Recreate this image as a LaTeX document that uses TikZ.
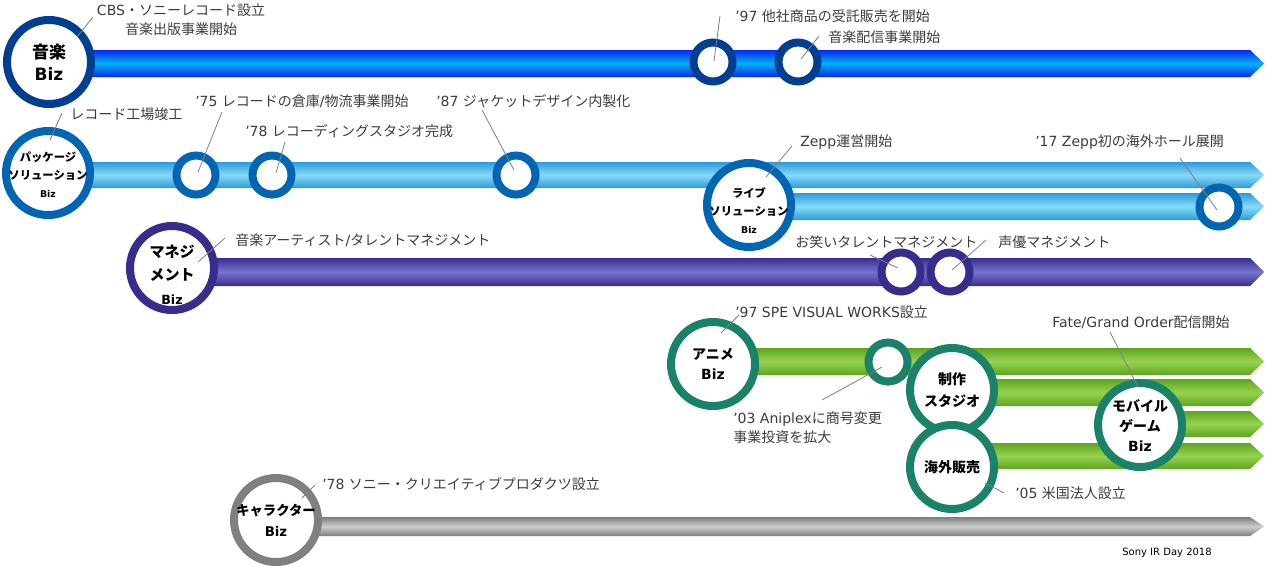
\documentclass[tikz,border=0pt]{standalone}
\usepackage{fontspec}
\setmainfont{Noto Sans CJK JP}
\newfontfamily\lat{DejaVu Sans}

\definecolor{musicring}{RGB}{0,62,145}
\definecolor{musicedge}{RGB}{10,40,245}
\definecolor{musicmid}{RGB}{0,178,240}
\definecolor{pkgring}{RGB}{0,102,180}
\definecolor{pkgedge}{RGB}{45,155,215}
\definecolor{pkgmid}{RGB}{135,218,250}
\definecolor{mgtring}{RGB}{55,45,140}
\definecolor{mgtedge}{RGB}{55,45,145}
\definecolor{mgtmid}{RGB}{122,114,206}
\definecolor{animering}{RGB}{25,130,105}
\definecolor{animeedge}{RGB}{95,165,30}
\definecolor{animemid}{RGB}{150,210,80}
\definecolor{charring}{RGB}{128,128,128}
\definecolor{charedge}{RGB}{125,125,125}
\definecolor{charmid}{RGB}{205,205,205}
\definecolor{notetext}{RGB}{60,60,60}

\newcommand{\fs}[2]{\fontsize{#1}{#2}\selectfont}
% #1 start x, #2 centre y, #3 half height, #4 edge colour, #5 middle colour
\newcommand{\timebar}[5]{%
  \shade[top color=#4,bottom color=#4,middle color=#5]
    (#1,#2-#3)--(1250,#2-#3)--(1264,#2)--(1250,#2+#3)--(#1,#2+#3)--cycle;}

\tikzset{
  ring/.style={circle,draw=#1,fill=white,line width=6pt,minimum size=63pt,inner sep=0pt},
  dot/.style={circle,draw=#1,fill=white,line width=6pt,minimum size=29.25pt,inner sep=0pt},
  head/.style={align=center,inner sep=0pt,text=black},
  note/.style={font=\fs{10.5}{14.25},text=notetext,inner sep=0pt,anchor=west},
  lead/.style={draw=gray,line width=0.6pt}
}

\begin{document}
\begin{tikzpicture}[x=0.75pt,y=-0.75pt]
\useasboundingbox (0,0) rectangle (1266,565);

% the bars
\timebar{50}{63.5}{13.5}{musicedge}{musicmid}
\timebar{48}{175}{13}{pkgedge}{pkgmid}
\timebar{749}{206.5}{13.5}{pkgedge}{pkgmid}
\timebar{172}{272}{14}{mgtedge}{mgtmid}
\timebar{713}{361.5}{13.5}{animeedge}{animemid}
\timebar{952}{392.5}{13.5}{animeedge}{animemid}
\timebar{1140}{424}{13}{animeedge}{animemid}
\timebar{952}{456}{13}{animeedge}{animemid}
\timebar{276}{526.5}{9.5}{charedge}{charmid}

% music
\node[ring=musicring] (music) at (49,62) {};
\node[head,font=\bfseries\fs{12.75}{16.5}] at (music) {音楽\\{\lat Biz}};
\node[dot=musicring] (music97) at (713,62) {};
\node[dot=musicring] (musicweb) at (798,62) {};

\node[note,anchor=center,align=center] (cbs) at (181,19.5) {{\lat CBS}・ソニーレコード設立\\音楽出版事業開始};
\node[note] (consign) at (735,16) {{\lat ’97 }他社商品の受託販売を開始};
\node[note] (web) at (828,37) {音楽配信事業開始};
\coordinate (cbs-end) at (93,17);
\coordinate (consign-end) at (720,16);
\coordinate (web-end) at (819,36);
\draw[lead] ([shift={(28,-25)}]music.center) -- (cbs-end);
\draw[lead] ([shift={(1,-1)}]music97.center) -- (consign-end);
\draw[lead] ([shift={(3,-3)}]musicweb.center) -- (web-end);

% package solution
\node[ring=pkgring] (pkg) at (48,173) {};
\node[head,font=\bfseries\fs{8.5}{13.5}] at ([yshift=-1]pkg.center) {パッケージ\\ソリューション\\{\lat\fs{7}{10}Biz}};
\node[dot=pkgring] (pkg75) at (196,175) {};
\node[dot=pkgring] (pkg78) at (272,175) {};
\node[dot=pkgring] (pkg87) at (516,175) {};

\node[note] (factory) at (70,114) {レコード工場竣工};
\node[note] (store) at (195,101) {{\lat ’75 }レコードの倉庫{\lat /}物流事業開始};
\node[note] (studio) at (245,131) {{\lat ’78 }レコーディングスタジオ完成};
\node[note] (jacket) at (436,101) {{\lat ’87 }ジャケットデザイン内製化};
\coordinate (factory-end) at (62,113);
\coordinate (store-end) at (222,112);
\coordinate (studio-end) at (285,142);
\coordinate (jacket-end) at (482,110);
\draw[lead] ([shift={(2,-33)}]pkg.center) -- (factory-end);
\draw[lead] ([shift={(2,-3)}]pkg75.center) -- (store-end);
\draw[lead] ([shift={(4,-2)}]pkg78.center) -- (studio-end);
\draw[lead] ([shift={(-2,-5)}]pkg87.center) -- (jacket-end);

% live solution
\node[ring=pkgring] (live) at (749,205) {};
\node[head,font=\bfseries\fs{8.5}{13.5}] at ([yshift=-4]live.center) {ライブ\\ソリューション\\{\lat\fs{7}{10}Biz}};
\node[dot=pkgring] (live17) at (1219,207) {};

\node[note] (zepp) at (800,142) {{\lat Zepp}運営開始};
\node[note] (abroad) at (1035,142) {{\lat ’17 Zepp}初の海外ホール展開};
\coordinate (zepp-end) at (792,146);
\coordinate (abroad-end) at (1180,158);
\draw[lead] ([shift={(17,-28)}]live.center) -- (zepp-end);
\draw[lead] ([shift={(-2,3)}]live17.center) -- (abroad-end);

% management
\node[ring=mgtring] (mgmt) at (172,268) {};
\node[head,font=\bfseries\fs{11.25}{17.5}] at ([yshift=-5]mgmt.center) {マネジ\\メント\\{\lat\fs{9.5}{12}Biz}};
\node[dot=mgtring] (comedy) at (901,272) {};
\node[dot=mgtring] (voice) at (950,272) {};

\node[note] (artist) at (235,240) {音楽アーティスト{\lat /}タレントマネジメント};
\node[note] (comedy-txt) at (795,242) {お笑いタレントマネジメント};
\node[note] (voice-txt) at (998,242) {声優マネジメント};
\coordinate (artist-end) at (225,238);
\coordinate (comedy-end) at (870,255);
\coordinate (voice-end) at (986,240);
\draw[lead] ([shift={(26,-6)}]mgmt.center) -- (artist-end);
\draw[lead] ([shift={(-3,-4)}]comedy.center) -- (comedy-end);
\draw[lead] ([shift={(2,-2)}]voice.center) -- (voice-end);

% anime
\node[ring=animering] (anime) at (713,364) {};
\node[head,font=\bfseries\fs{10.5}{15.5}] at (anime) {アニメ\\{\lat Biz}};
\node[dot=animering] (aniplex) at (888,362) {};
\node[ring=animering] (seisaku) at (952,390) {};
\node[head,font=\bfseries\fs{10.5}{16}] at (seisaku) {制作\\スタジオ};
\node[ring=animering] (overseas) at (952,467) {};
\node[head,font=\bfseries\fs{10.5}{16}] at (overseas) {海外販売};
\node[ring=animering] (mobile) at (1140,425) {};
\node[head,font=\bfseries\fs{10.5}{15}] at (mobile) {モバイル\\ゲーム\\{\lat Biz}};

\node[note] (spe) at (735,312) {{\lat ’97 SPE VISUAL WORKS}設立};
\node[note,anchor=north west,align=left] (rename) at (733,411) {{\lat ’03 Aniplex}に商号変更\\事業投資を拡大};
\node[note] (fgo) at (1052,322) {{\lat Fate/Grand Order}配信開始};
\node[note] (usa) at (1015,493) {{\lat ’05 }米国法人設立};
\coordinate (spe-end) at (739,315);
\coordinate (rename-end) at (822,400);
\coordinate (fgo-end) at (1110,332);
\coordinate (usa-end) at (1004,493);
\draw[lead] ([shift={(8,-31)}]anime.center) -- (spe-end);
\draw[lead] ([shift={(-6,5)}]aniplex.center) -- (rename-end);
\draw[lead] ([shift={(-2,-38)}]mobile.center) -- (fgo-end);
\draw[lead] ([shift={(33,16)}]overseas.center) -- (usa-end);

% character
\node[ring=charring] (chara) at (276,520) {};
\node[head,font=\bfseries\fs{10}{16}] at (chara) {キャラクター\\{\lat Biz}};
\node[note] (creative) at (322,484) {{\lat ’78 }ソニー・クリエイティブプロダクツ設立};
\coordinate (creative-end) at (315,485);
\draw[lead] ([shift={(26,-22)}]chara.center) -- (creative-end);

\node[inner sep=0pt,font=\lat\fs{7.5}{9}] (ir) at (1167,553) {Sony IR Day 2018};
\end{tikzpicture}
\end{document}
